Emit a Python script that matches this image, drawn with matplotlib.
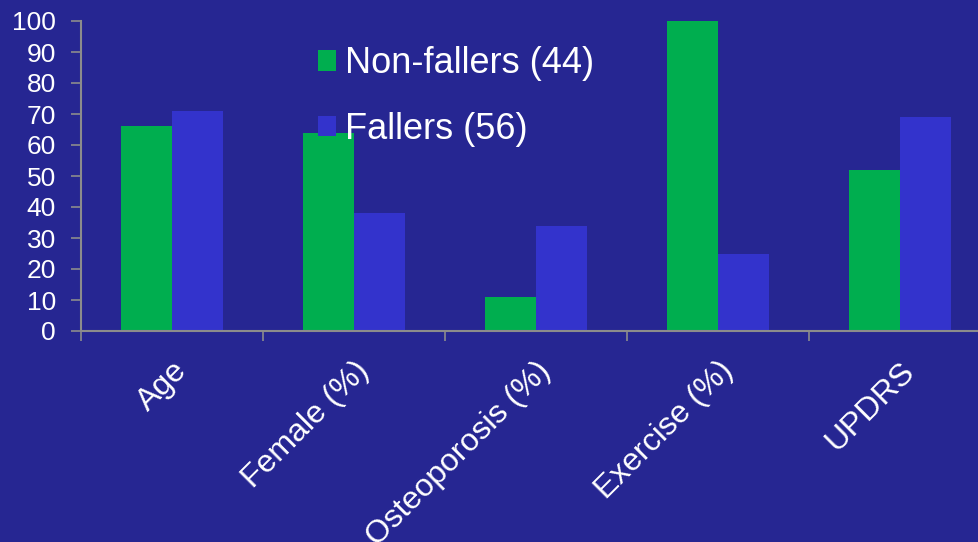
import numpy as np
import matplotlib
matplotlib.use("Agg")
import matplotlib.pyplot as plt

plt.rcParams['font.family'] = ['Liberation Sans', 'DejaVu Sans']

categories = ["Age", "Female (%)", "Osteoporosis (%)", "Exercise (%)", "UPDRS"]
non_fallers = [66, 64, 11, 100, 52]
fallers = [71, 38, 34, 25, 69]
series_labels = ["Non-fallers (44)", "Fallers (56)"]

bg = "#262692"
green = "#00AE4F"
blue = "#3333CC"
axis_grey = "#8C8C8C"

fig = plt.figure(figsize=(9.79, 5.42), dpi=100)
fig.patch.set_facecolor(bg)
# axes run slightly past the right edge of the figure
ax = fig.add_axes([81 / 979, 1 - 331 / 542, (991 - 81) / 979, (331 - 21) / 542])
ax.set_facecolor(bg)

x = np.arange(len(categories))
w = 0.28
ax.bar(x - w / 2, non_fallers, w, color=green, label=series_labels[0])
ax.bar(x + w / 2, fallers, w, color=blue, label=series_labels[1])

ax.set_xlim(-0.5, len(categories) - 0.5)
ax.set_ylim(0, 100)
ax.set_yticks(range(0, 101, 10))
ax.set_xticks(np.arange(len(categories) + 1) - 0.5, minor=False)
ax.set_xticklabels([])
ax.set_xticks(x, minor=True)
ax.set_xticklabels(categories, minor=True, rotation=45, ha='right',
                   rotation_mode='anchor', fontsize=23, color='white')
ax.tick_params(axis='x', which='minor', length=0, pad=18)
ax.tick_params(axis='x', which='major', length=7, direction='out', color=axis_grey,
               width=1.2)
ax.tick_params(axis='y', length=7, color=axis_grey, width=1.2, labelsize=19,
               labelcolor='white', pad=11)

for side in ['top', 'right']:
    ax.spines[side].set_visible(False)
for side in ['left', 'bottom']:
    ax.spines[side].set_color(axis_grey)
    ax.spines[side].set_linewidth(1.5)

leg = ax.legend(loc='upper left', bbox_to_anchor=(0.245, 0.965), frameon=False,
                fontsize=26, labelcolor='white', handlelength=0.5, handleheight=0.5,
                handletextpad=0.25, labelspacing=0.85, borderaxespad=0)

fig.savefig("out.png", dpi=100, facecolor=bg)
